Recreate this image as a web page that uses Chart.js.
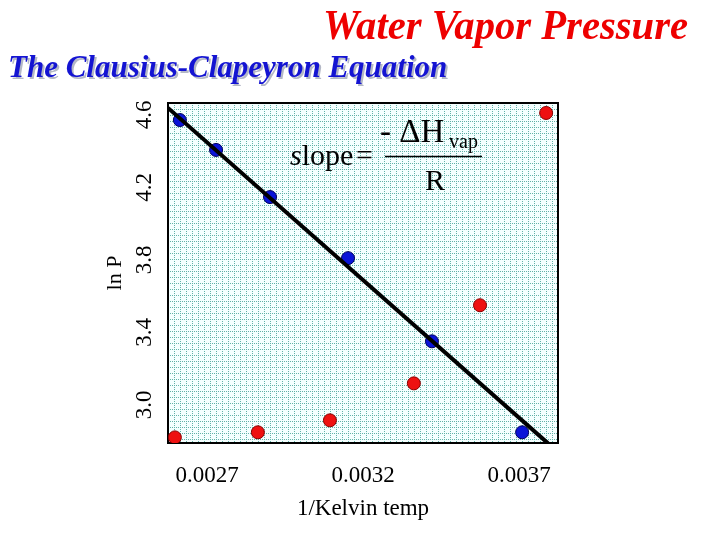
<!DOCTYPE html>
<html>
<head>
<meta charset="utf-8">
<script src="https://cdn.jsdelivr.net/npm/chart.js@4"></script>
<style>
  body { margin: 0; background: #fff; }
</style>
</head>
<body>
<canvas id="vapor-chart" width="720" height="540"></canvas>
<script>
const xTicks = [0.0027, 0.0032, 0.0037]
const yTicks = [3.0, 3.4, 3.8, 4.2, 4.6]

// blue points sit on the fitted line, red ones are the raw pressures
const blueX = [0.002613, 0.002729, 0.002902, 0.003152, 0.003421, 0.003710]
const blueY = [4.572, 4.407, 4.147, 3.810, 3.351, 2.849]
const redX = [0.002597, 0.002863, 0.003094, 0.003363, 0.003575, 0.003787]
const redY = [2.821, 2.849, 2.915, 3.119, 3.550, 4.611]
const fitX = [0.002575, 0.003793]
const fitY = [4.639, 2.788]

const toPoints = (xs, ys) => xs.map((x, i) => ({ x: x, y: ys[i] }))

const serif = '"Liberation Serif", "Times New Roman", serif'

// dotted graph-paper background + frame
const paper = {
    id: 'paper',
    beforeDatasetsDraw(chart) {
        const { ctx, chartArea: a } = chart
        const tile = document.createElement('canvas')
        tile.width = 6
        tile.height = 6
        const t = tile.getContext('2d')
        t.fillStyle = '#f4ffff'
        t.fillRect(0, 0, 6, 6)
        t.fillStyle = '#62b2a8'
        for (let i = 0; i < 6; i += 2) {
            t.fillRect(i, 0, 1, 1)
            t.fillRect(0, i, 1, 1)
        }
        ctx.save()
        ctx.translate(a.left, a.top)
        ctx.fillStyle = ctx.createPattern(tile, 'repeat')
        ctx.fillRect(0, 0, a.right - a.left, a.bottom - a.top)
        ctx.restore()

        ctx.save()
        ctx.strokeStyle = '#000'
        ctx.lineWidth = 2
        ctx.strokeRect(a.left, a.top, a.right - a.left, a.bottom - a.top)
        ctx.restore()
    }
}

const decorations = {
    id: 'decorations',
    afterDraw(chart) {
        const ctx = chart.ctx
        const yScale = chart.scales.y
        ctx.save()

        // titles
        ctx.textBaseline = 'alphabetic'
        ctx.font = 'italic bold 42px ' + serif
        ctx.fillStyle = '#ee0000'
        ctx.textAlign = 'left'
        const title = 'Water Vapor Pressure'
        const tw = ctx.measureText(title).width
        ctx.save()
        ctx.translate(323, 39)
        ctx.scale(365 / tw, 1)
        ctx.fillText(title, 0, 0)
        ctx.restore()

        ctx.font = 'italic bold 31px ' + serif
        ctx.fillStyle = '#b4b8c6'
        ctx.fillText('The Clausius-Clapeyron Equation', 10, 79)
        ctx.fillStyle = '#1414d2'
        ctx.fillText('The Clausius-Clapeyron Equation', 8, 77)

        // rotated y tick labels
        ctx.fillStyle = '#000'
        ctx.font = '23px ' + serif
        ctx.textAlign = 'center'
        ctx.textBaseline = 'middle'
        yTicks.forEach(v => {
            ctx.save()
            ctx.translate(145, yScale.getPixelForValue(v))
            ctx.rotate(-Math.PI / 2)
            ctx.fillText(v.toFixed(1), 0, 0)
            ctx.restore()
        })

        // slope formula
        ctx.textBaseline = 'alphabetic'
        ctx.textAlign = 'left'
        ctx.font = 'italic 30px ' + serif
        ctx.fillText('s', 290, 165)
        const sw = ctx.measureText('s').width
        ctx.font = '30px ' + serif
        ctx.fillText('lope', 290 + sw, 165)
        ctx.fillText('=', 356, 165)
        ctx.font = '33px ' + serif
        ctx.fillText('- \u0394H', 380, 142)
        ctx.font = '20px ' + serif
        ctx.fillText('vap', 449, 148)
        ctx.font = '30px ' + serif
        ctx.fillText('R', 425, 190)
        ctx.lineWidth = 1.5
        ctx.beginPath()
        ctx.moveTo(385, 156.5)
        ctx.lineTo(482, 156.5)
        ctx.stroke()

        ctx.restore()
    }
}

new Chart(document.getElementById('vapor-chart'), {
    type: 'scatter',
    data: {
        datasets: [{
            type: 'line',
            data: toPoints(fitX, fitY),
            borderColor: '#000',
            borderWidth: 4,
            pointRadius: 0,
            fill: false
        }, {
            data: toPoints(blueX, blueY),
            backgroundColor: '#0a14d8',
            borderColor: '#00005a',
            borderWidth: 1,
            pointRadius: 6.5
        }, {
            data: toPoints(redX, redY),
            backgroundColor: '#ee1111',
            borderColor: '#880000',
            borderWidth: 1,
            pointRadius: 6.5
        }]
    },
    options: {
        responsive: false,
        animation: false,
        layout: {
            padding: { left: 100, top: 103, right: 162, bottom: 17 }
        },
        plugins: {
            legend: { display: false },
            tooltip: { enabled: false }
        },
        scales: {
            x: {
                type: 'linear',
                min: 0.002575,
                max: 0.003825,
                afterBuildTicks: scale => {
                    scale.ticks = xTicks.map(v => ({ value: v }))
                },
                afterFit: scale => { scale.height = 80 },
                grid: { display: false, drawTicks: false },
                border: { display: false },
                ticks: {
                    padding: 19,
                    color: '#000',
                    font: { family: serif, size: 23 },
                    maxRotation: 0,
                    callback: v => v.toFixed(4)
                },
                title: {
                    display: true,
                    text: '1/Kelvin temp',
                    color: '#000',
                    font: { family: serif, size: 23 },
                    padding: { top: 0, bottom: 0 }
                }
            },
            y: {
                min: 2.79,
                max: 4.666,
                afterFit: scale => { scale.width = 68 },
                grid: { display: false, drawTicks: false },
                border: { display: false },
                ticks: { display: false },
                title: {
                    display: true,
                    text: 'ln P',
                    color: '#000',
                    font: { family: serif, size: 22 },
                    padding: { top: 2, bottom: 0 }
                }
            }
        }
    },
    plugins: [paper, decorations]
})
</script>
</body>
</html>
